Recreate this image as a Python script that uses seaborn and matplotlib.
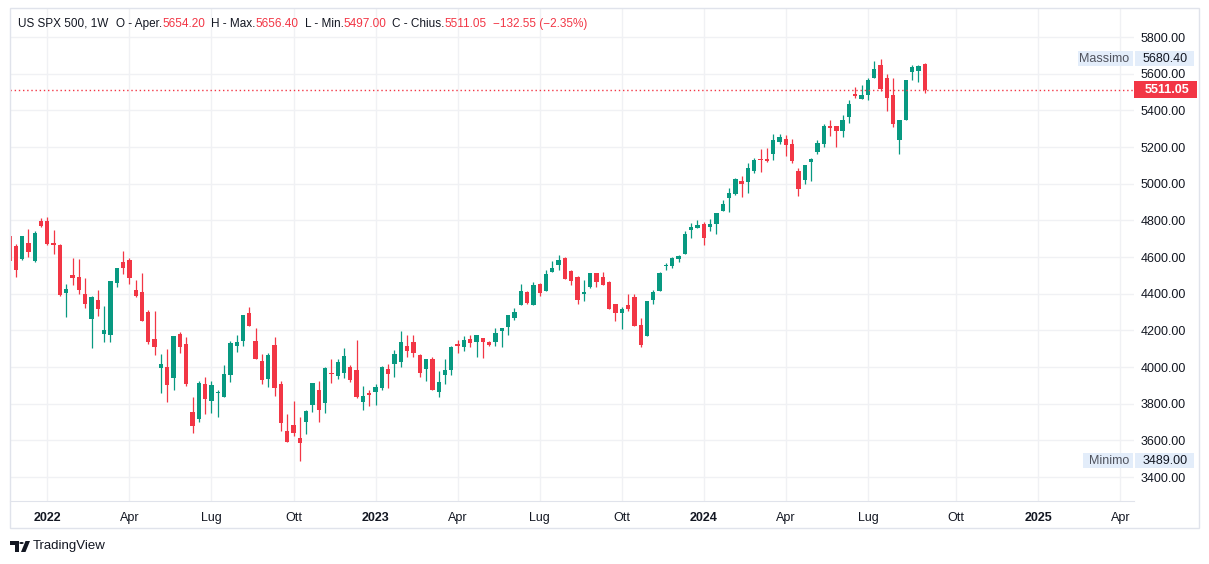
import numpy as np
import pandas as pd
import matplotlib
matplotlib.use("Agg")
import matplotlib.pyplot as plt
import matplotlib.transforms as mtrans
from matplotlib.patches import Rectangle, Polygon, Circle
import seaborn as sns

# weekly candles, US SPX 500 (1W)
weeks = pd.date_range("2021-11-22", periods=146, freq="W-MON")

opens = [4712, 4660, 4591, 4676, 4580, 4796, 4796, 4676, 4665, 4405,
         4502, 4491, 4398, 4263, 4365, 4182, 4176, 4460, 4573, 4582,
         4420, 4409, 4300, 4153, 3996, 4000, 3942, 4182, 4128, 3757,
         3715, 3910, 3813, 3857, 3835, 3955, 4113, 4144, 4292, 4144,
         4035, 3933, 4122, 3910, 3653, 3686, 3615, 3699, 3792, 3877,
         3802, 3970, 3950, 3966, 4001, 3985, 3810, 3859, 3865, 3888,
         3990, 4014, 4025, 4116, 4138, 4067, 3987, 4045, 3861, 3954,
         3981, 4127, 4107, 4154, 4134, 4160, 4138, 4134, 4194, 4216,
         4270, 4336, 4410, 4336, 4454, 4412, 4516, 4558, 4596, 4525,
         4492, 4398, 4434, 4514, 4492, 4465, 4345, 4292, 4339, 4383,
         4230, 4167, 4363, 4412, 4550, 4549, 4590, 4619, 4745, 4756,
         4781, 4761, 4778, 4849, 4920, 4942, 5016, 5007, 5067, 5131,
         5136, 5160, 5230, 5245, 5218, 5071, 5018, 5116, 5175, 5216,
         5317, 5317, 5287, 5363, 5487, 5463, 5483, 5579, 5650, 5574,
         5481, 5237, 5347, 5607, 5612, 5654.20]

highs = [4743, 4673, 4717, 4753, 4742, 4815, 4818, 4747, 4671, 4453,
         4594, 4589, 4485, 4387, 4422, 4333, 4469, 4540, 4633, 4593,
         4475, 4513, 4311, 4307, 4071, 4098, 4169, 4193, 4166, 3839,
         3921, 3948, 3921, 3877, 4013, 4144, 4172, 4281, 4330, 4215,
         4073, 4079, 4161, 3921, 3741, 3812, 3726, 3768, 3915, 3921,
         3999, 4046, 4041, 4101, 4012, 4145, 3898, 3876, 3909, 4007,
         4014, 4094, 4198, 4174, 4176, 4072, 4045, 4056, 3978, 4045,
         4116, 4148, 4167, 4174, 4176, 4160, 4143, 4214, 4214, 4285,
         4323, 4454, 4412, 4465, 4459, 4530, 4579, 4612, 4601, 4530,
         4498, 4476, 4514, 4514, 4519, 4470, 4345, 4329, 4399, 4399,
         4269, 4361, 4419, 4519, 4569, 4601, 4613, 4743, 4787, 4803,
         4792, 4809, 4842, 4913, 4978, 5033, 5044, 5114, 5142, 5191,
         5197, 5273, 5273, 5267, 5245, 5087, 5103, 5142, 5240, 5328,
         5350, 5317, 5377, 5454, 5530, 5536, 5579, 5667, 5680.40, 5596,
         5574, 5345, 5568, 5650, 5650, 5656.40]

lows = [4570, 4493, 4585, 4602, 4575, 4766, 4665, 4618, 4385, 4275,
        4447, 4400, 4324, 4105, 4280, 4138, 4138, 4438, 4509, 4455,
        4382, 4253, 4127, 4067, 3860, 3811, 3876, 4075, 3899, 3639,
        3699, 3741, 3748, 3726, 3835, 3917, 4081, 4113, 4222, 4042,
        3906, 3890, 3841, 3650, 3590, 3622, 3489.00, 3633, 3753, 3699,
        3748, 3912, 3937, 3939, 3916, 3830, 3768, 3785, 3794, 3872,
        3883, 3948, 3998, 4052, 4052, 3943, 3921, 3872, 3834, 3910,
        3954, 4074, 4090, 4110, 4052, 4047, 4112, 4112, 4107, 4172,
        4259, 4336, 4345, 4336, 4385, 4412, 4516, 4530, 4478, 4445,
        4341, 4358, 4429, 4434, 4450, 4319, 4249, 4205, 4307, 4221,
        4107, 4167, 4341, 4412, 4527, 4538, 4575, 4614, 4701, 4756,
        4668, 4740, 4723, 4849, 4843, 4936, 4925, 4947, 5056, 5062,
        5116, 5131, 5214, 5149, 5114, 4931, 4996, 5012, 5164, 5199,
        5259, 5199, 5254, 5330, 5467, 5463, 5456, 5579, 5508, 5399,
        5307, 5161, 5347, 5568, 5552, 5497.00]

closes = [4580, 4531, 4715, 4629, 4731, 4771, 4673, 4667, 4392, 4425,
          4487, 4422, 4345, 4382, 4318, 4202, 4469, 4540, 4542, 4487,
          4387, 4253, 4138, 4111, 4016, 3904, 4169, 4108, 3906, 3677,
          3915, 3824, 3904, 3864, 3964, 4133, 4139, 4281, 4222, 4042,
          3928, 4068, 3884, 3693, 3590, 3639, 3584, 3762, 3915, 3764,
          3993, 3962, 4030, 4062, 3927, 3839, 3843, 3845, 3892, 4001,
          3963, 4070, 4138, 4085, 4074, 3965, 4045, 3872, 3918, 3985,
          4110, 4112, 4149, 4129, 4176, 4134, 4118, 4187, 4214, 4285,
          4301, 4416, 4347, 4449, 4401, 4509, 4541, 4583, 4478, 4467,
          4363, 4407, 4514, 4461, 4450, 4319, 4292, 4318, 4318, 4221,
          4119, 4361, 4409, 4514, 4558, 4596, 4608, 4725, 4761, 4776,
          4701, 4781, 4842, 4891, 4951, 5027, 4998, 5087, 5131, 5127,
          5125, 5240, 5256, 5209, 5125, 4969, 5103, 5136, 5224, 5312,
          5303, 5287, 5350, 5432, 5477, 5481, 5568, 5628, 5514, 5465,
          5328, 5345, 5563, 5639, 5643.60, 5511.05]

tick_dates = ["2022-01-03", "2022-04-04", "2022-07-04", "2022-10-03",
              "2023-01-02", "2023-04-03", "2023-07-03", "2023-10-02",
              "2024-01-01", "2024-04-01", "2024-07-01", "2024-10-07",
              "2025-01-06", "2025-04-07"]
tick_labels = ["2022", "Apr", "Lug", "Ott", "2023", "Apr", "Lug", "Ott",
               "2024", "Apr", "Lug", "Ott", "2025", "Apr"]
price_ticks = list(range(3400, 5801, 200))

# header legend: (text, colour kind, gap in px before it)
header = [("US SPX 500, 1W", "dark", 0), ("O - Aper.", "dark", 8), ("5654.20", "red", 0),
          ("H - Max.", "dark", 6), ("5656.40", "red", 0), ("L - Min.", "dark", 6),
          ("5497.00", "red", 0), ("C - Chius.", "dark", 6), ("5511.05", "red", 0),
          ("\u2212132.55 (\u22122.35%)", "red", 6)]

hi_val, lo_val, last_val = 5680.40, 3489.00, 5511.05

df = pd.DataFrame({"date": weeks, "open": opens, "high": highs,
                   "low": lows, "close": closes})
df["up"] = df["close"] >= df["open"]

GREEN = "#089981"
RED = "#F23645"
TXT = "#131722"
GRID = "#F0F1F4"

sns.set_style("white")
plt.rcParams["font.family"] = ["Liberation Sans", "DejaVu Sans"]

W, H = 1209, 564
fig = plt.figure(figsize=(W / 100, H / 100), dpi=100)
fig.patch.set_facecolor("white")
ax = fig.add_axes([10 / W, (H - 501) / H, (1134 - 10) / W, (501 - 8) / H])

# candles: wicks + bodies
colors = np.where(df["up"], GREEN, RED)
ax.vlines(df["date"], df["low"], df["high"], colors=colors, linewidth=0.9, zorder=3)
body_h = np.maximum((df["close"] - df["open"]).abs(), 5.5)
body_b = np.minimum(df["open"], df["close"])
ax.bar(df["date"], body_h, bottom=body_b, width=4.8, color=colors,
       linewidth=0, zorder=4)

# last price line
ax.axhline(last_val, color=RED, lw=1, ls=(0, (1, 2)), zorder=5)

x0 = pd.Timestamp("2022-01-03")
ax.set_xlim(x0 - pd.Timedelta(days=41.4), x0 + pd.Timedelta(days=1205.1))
ax.set_ylim(3269.1, 5958.2)

ax.set_xticks(pd.to_datetime(tick_dates))
ax.set_xticklabels(tick_labels)
for lab in ax.get_xticklabels():
    if lab.get_text().isdigit():
        lab.set_fontweight("bold")
ax.tick_params(axis="x", length=0, pad=8, labelsize=9, labelcolor=TXT)

ax.yaxis.tick_right()
ax.set_yticks(price_ticks)
ax.set_yticklabels([f"{v:.2f}" for v in price_ticks])
ax.tick_params(axis="y", length=0, pad=5, labelsize=9, labelcolor=TXT)

ax.grid(True, color=GRID, lw=1)
ax.set_axisbelow(True)
for s in ["top", "right", "left"]:
    ax.spines[s].set_visible(False)
ax.spines["bottom"].set_color("#E0E3EB")

# price tags on the right
btr = mtrans.blended_transform_factory(fig.transFigure, ax.transData)
ph = 5.4545  # price units per pixel


def tag(x_left, x_right, val, h_px, fc, text, tc, tx, weight="normal"):
    ax.add_patch(Rectangle((x_left / W, val - h_px / 2 * ph), (x_right - x_left) / W,
                           h_px * ph, transform=btr, fc=fc, ec="none",
                           clip_on=False, zorder=6))
    ax.text(tx / W, val, text, transform=btr, ha="right",
            va="center", color=tc, fontsize=9, fontweight=weight,
            clip_on=False, zorder=7)


tag(1078, 1133, hi_val, 15, "#E3EDFA", "Massimo", "#50535E", 1129)
tag(1135, 1194, hi_val, 15, "#E3EDFA", f"{hi_val:.2f}", TXT, 1188)
tag(1083, 1133, lo_val, 15, "#E3EDFA", "Minimo", "#50535E", 1129)
tag(1135, 1194, lo_val, 15, "#E3EDFA", f"{lo_val:.2f}", TXT, 1188)
tag(1134, 1197, last_val, 17, RED, f"{last_val:.2f}", "white", 1189, weight="bold")

# header legend, each piece placed right after the previous one
prev = fig.text(18 / W, 1 - 24 / H, header[0][0], ha="left", va="center",
                fontsize=8.5, color=TXT)
for txt, kind, gap in header[1:]:
    prev = ax.annotate(txt, xy=(1, 0.5), xycoords=prev, xytext=(gap, 0),
                       textcoords="offset pixels", ha="left", va="center",
                       fontsize=8.5, color=TXT if kind == "dark" else RED,
                       annotation_clip=False)

# outer frame
fig.patches.append(Rectangle((9.5 / W, 1 - 528 / H), (1198.5 - 9.5) / W, (528 - 8) / H,
                             transform=fig.transFigure, fill=False,
                             ec="#E0E3EB", lw=1))


def px(x, y):
    return (x / W, 1 - y / H)


# TradingView logo + name
fig.patches.append(Polygon([px(10, 541), px(19, 541), px(19, 552), px(15, 552),
                            px(15, 545), px(10, 545)], closed=True,
                           transform=fig.transFigure, fc=TXT, ec="none"))
fig.patches.append(Circle(px(21.5, 543), 2.2 / W, transform=fig.transFigure,
                          fc=TXT, ec="none"))
fig.patches.append(Polygon([px(21, 552), px(25.5, 552), px(30, 541), px(25.5, 541)],
                           closed=True, transform=fig.transFigure, fc=TXT, ec="none"))
fig.text(33 / W, 1 - 546 / H, "TradingView", ha="left", va="center",
         fontsize=9.5, color=TXT)

fig.savefig("out.png", dpi=100, facecolor="white")
